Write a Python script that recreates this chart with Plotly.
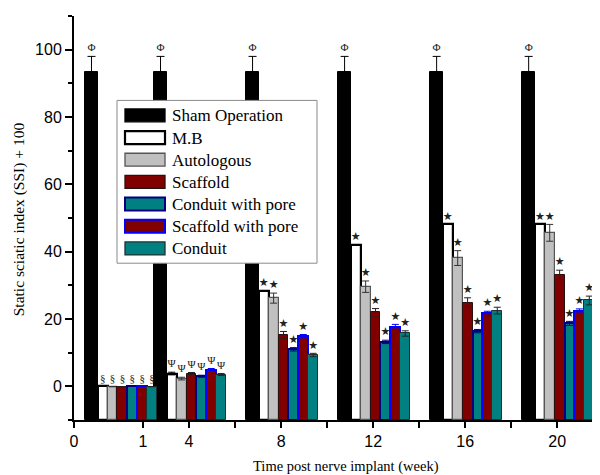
import plotly.graph_objects as go

# ---------------- data ----------------
weeks = ["1", "4", "8", "12", "16", "20"]
series_names = ["Sham Operation", "M.B", "Autologous", "Scaffold",
                "Conduit with pore", "Scaffold with pore", "Conduit"]

sham = [93.5, 93.5, 93.5, 93.5, 93.5, 93.5]
sham_err = [4.5, 4.5, 4.5, 4.5, 4.5, 4.5]
mb = [0.0, 3.8, 28.3, 42.1, 48.1, 48.1]
mb_err = [0.0, 0.4, 0.0, 0.0, 0.0, 0.0]
autologous = [-0.1, 2.3, 26.2, 29.6, 38.1, 45.6]
autologous_err = [0.0, 0.4, 1.5, 1.7, 2.2, 2.5]
scaffold = [-0.1, 3.8, 15.3, 22.0, 24.9, 33.1]
scaffold_err = [0.0, 0.3, 1.0, 1.1, 1.4, 1.4]
conduit_pore = [0.0, 3.0, 11.0, 13.2, 16.4, 18.7]
conduit_pore_err = [0.0, 0.3, 0.5, 0.5, 0.5, 0.6]
scaffold_pore = [0.0, 5.0, 14.9, 17.7, 21.7, 22.4]
scaffold_pore_err = [0.0, 0.3, 0.5, 0.7, 0.6, 0.6]
conduit = [-0.1, 3.5, 9.3, 15.7, 22.5, 25.5]
conduit_err = [0.0, 0.3, 0.5, 0.8, 1.0, 1.3]

sham_marks = ["Φ", "Φ", "Φ", "Φ", "Φ", "Φ"]
group_marks = ["§", "Ψ", "★", "★", "★", "★"]

x_tick_labels = ["0", "1", "4", "", "8", "", "12", "", "16", "", "20"]

# ---------------- layout / style ----------------
Y_MIN, Y_MAX = -10, 110
X_MAX = 11.43
group_anchor = [1.0, 2.5, 4.5, 6.5, 8.5, 10.5]
tick_pos = [0, 1.5, 2.5, 3.5, 4.5, 5.5, 6.5, 7.5, 8.5, 9.5, 10.5]
SHAM_W = 0.27
BAR_W = 0.215

styles = [
    dict(fill="#000000", line="#000000", lw=1.0, err="#000000"),
    dict(fill="#FFFFFF", line="#000000", lw=2.2, err="#000000"),
    dict(fill="#C0C0C0", line="#555555", lw=1.2, err="#333333"),
    dict(fill="#800000", line="#2a1010", lw=1.0, err="#222222"),
    dict(fill="#008080", line="#000080", lw=2.0, err="#000080"),
    dict(fill="#800000", line="#0000FF", lw=2.0, err="#0000FF"),
    dict(fill="#008080", line="#203030", lw=1.0, err="#222222"),
]

treat_vals = [mb, autologous, scaffold, conduit_pore, scaffold_pore, conduit]
treat_errs = [mb_err, autologous_err, scaffold_err, conduit_pore_err,
              scaffold_pore_err, conduit_err]

fig = go.Figure()

# sham bars
sham_x = [g - 0.62 for g in group_anchor]
st = styles[0]
fig.add_trace(go.Bar(
    x=sham_x, y=[v - Y_MIN for v in sham], base=Y_MIN, width=SHAM_W,
    marker=dict(color=st["fill"], line=dict(color=st["line"], width=st["lw"])),
    error_y=dict(type="data", array=sham_err, symmetric=True, color=st["err"],
                 thickness=1, width=4),
    name=series_names[0], showlegend=False, hoverinfo="skip"))

text_x, text_y, text_t = [], [], []
for g, v, e, m in zip(sham_x, sham, sham_err, sham_marks):
    text_x.append(g); text_y.append(v + e + 0.8); text_t.append(m)

for k, (vals, errs) in enumerate(zip(treat_vals, treat_errs)):
    st = styles[k + 1]
    xs = [g - 0.485 + BAR_W / 2 + k * BAR_W for g in group_anchor]
    fig.add_trace(go.Bar(
        x=xs, y=[v - Y_MIN for v in vals], base=Y_MIN, width=BAR_W,
        marker=dict(color=st["fill"], line=dict(color=st["line"], width=st["lw"])),
        error_y=dict(type="data", array=errs, symmetric=True, color=st["err"],
                     thickness=1, width=3.5),
        name=series_names[k + 1], showlegend=False, hoverinfo="skip"))
    for x, v, e, m in zip(xs, vals, errs, group_marks):
        text_x.append(x); text_y.append(max(v, 0) + e + 0.6); text_t.append(m)

fig.add_trace(go.Scatter(
    x=text_x, y=text_y, text=text_t, mode="text", textposition="top center",
    textfont=dict(family="Liberation Serif, DejaVu Sans", size=11, color="#222222"),
    showlegend=False, hoverinfo="skip", cliponaxis=False))

# ---------------- pixel helpers (page has an 8px body margin) ----------------
OFF = 8
W, H = 600 - OFF, 475 - OFF
L, R, T, B = 74 - OFF, 0, 15.5 - OFF, 55
PW, PH = W - L - R, H - T - B


def px(xp):
    return (xp - OFF - L) / PW


def py(yp):
    return (H - B - (yp - OFF)) / PH


shapes = []
annotations = []
# legend box
shapes.append(dict(type="rect", xref="paper", yref="paper",
                   x0=px(117), x1=px(317), y0=py(263), y1=py(100),
                   fillcolor="#FFFFFF", line=dict(color="#8a8a8a", width=1),
                   layer="above"))
for i, name in enumerate(series_names):
    yc = 115 + 22.2 * i
    st = styles[i]
    shapes.append(dict(type="rect", xref="paper", yref="paper",
                       x0=px(125), x1=px(165), y0=py(yc + 6.5), y1=py(yc - 6.5),
                       fillcolor=st["fill"],
                       line=dict(color=st["line"], width=max(st["lw"], 1.3)),
                       layer="above"))
    annotations.append(dict(xref="paper", yref="paper", x=px(170), y=py(yc + 0.5),
                            text=name, showarrow=False, xanchor="left",
                            yanchor="middle",
                            font=dict(family="Liberation Serif", size=17,
                                      color="#000000")))

# axis titles
annotations.append(dict(xref="paper", yref="paper", x=px(345.5), y=py(467),
                        text="Time post nerve implant (week)", showarrow=False,
                        xanchor="center", yanchor="middle",
                        font=dict(family="Liberation Serif", size=14.5,
                                  color="#000000")))
annotations.append(dict(xref="paper", yref="paper", x=px(19), y=py(219),
                        text="Static sciatic index (SSI) + 100", showarrow=False,
                        textangle=-90, xanchor="center", yanchor="middle",
                        font=dict(family="Liberation Serif", size=15.5,
                                  color="#000000")))

fig.update_layout(
    width=W, height=H,
    margin=dict(l=L, r=R, t=T, b=B, pad=0),
    paper_bgcolor="#FFFFFF", plot_bgcolor="#FFFFFF",
    barmode="overlay", bargap=0,
    showlegend=False,
    shapes=shapes, annotations=annotations,
    font=dict(family="Liberation Sans", size=16, color="#000000"),
)
fig.update_xaxes(
    range=[0, X_MAX], showgrid=False, zeroline=False,
    showline=True, linecolor="#000000", linewidth=2,
    tickmode="array", tickvals=tick_pos, ticktext=x_tick_labels,
    ticks="outside", ticklen=6, tickwidth=2, tickcolor="#000000",
    tickfont=dict(family="Liberation Sans", size=16, color="#000000"),
)
fig.update_yaxes(
    range=[Y_MIN, Y_MAX], showgrid=False, zeroline=False,
    showline=True, linecolor="#000000", linewidth=2,
    tickmode="linear", tick0=0, dtick=20,
    ticks="outside", ticklen=7, tickwidth=2, tickcolor="#000000",
    minor=dict(tickmode="linear", tick0=0, dtick=10, ticks="outside",
               ticklen=4, tickwidth=1.5, tickcolor="#000000"),
    tickfont=dict(family="Liberation Sans", size=16, color="#000000"),
)

fig.write_html("out.html")
